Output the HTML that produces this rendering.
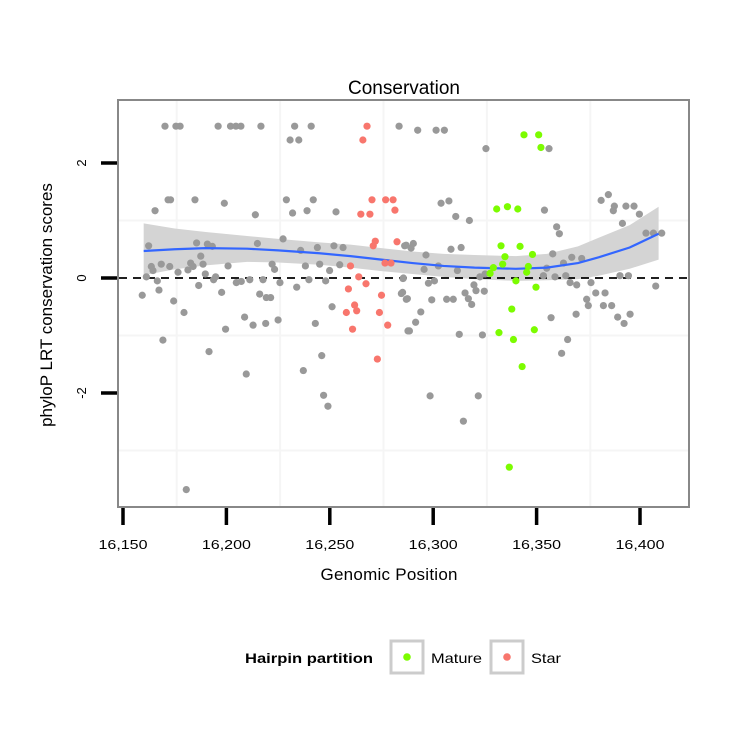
<!DOCTYPE html>
<html><head><meta charset="utf-8"><style>
body{margin:0;background:#fff;}
svg text{font-family:"Liberation Sans",sans-serif;}
</style></head><body>
<svg id="chart" width="750" height="750">
<rect width="750" height="750" fill="#fff"/>
<text x="404" y="94" text-anchor="middle" font-size="19">Conservation</text>
<rect x="118" y="100" width="571" height="407" fill="#fff" stroke="#888" stroke-width="2"/>
<g id="grid"></g>
<g id="band"></g>
<g id="zero"></g>
<g id="pts"></g>
<g id="axes"></g>
<text x="389" y="580" text-anchor="middle" font-size="17" textLength="137">Genomic Position</text>
<text transform="translate(52,305) rotate(-90)" text-anchor="middle" font-size="17">phyloP LRT conservation scores</text>
<g>
<text x="245" y="663" font-size="14" font-weight="bold" textLength="128" lengthAdjust="spacingAndGlyphs">Hairpin partition</text>
<rect x="391" y="641" width="32" height="32" fill="#fff" stroke="#ccc" stroke-width="3"/>
<circle cx="407" cy="657" r="3.8" fill="#7CFC00"/>
<text x="431" y="663" font-size="14" textLength="51" lengthAdjust="spacingAndGlyphs">Mature</text>
<rect x="491" y="641" width="32" height="32" fill="#fff" stroke="#ccc" stroke-width="3"/>
<circle cx="507" cy="657" r="3.8" fill="#F8766D"/>
<text x="531" y="663" font-size="14" textLength="30" lengthAdjust="spacingAndGlyphs">Star</text>
</g>
</svg>
<script>
const xTicks=[16150,16200,16250,16300,16350,16400];
const xTickLabels=["16,150","16,200","16,250","16,300","16,350","16,400"];
const yTicks=[2,0,-2];
const yTickLabels=["2","0","-2"];
const grayX=[16170.3,16175.6,16177.6,16196,16202,16204.6,16207,16216.7,16233,16241,16283.5,16230.8,16235,16171.8,16173,16184.8,16229,16242,16199,16165.5,16214,16232,16239,16253,
16162.4,16163.7,16164.5,16168.5,16172.6,16176.6,16185.6,16190.8,16193.2,16187.6,16182.7,16181.4,16183.9,16188.7,16189.8,16200.8,16215,16227.4,16235.9,16244,16252,16256.4,16222.1,16223.3,16238.2,16245.1,16249.9,16254.8,16286.2,16285.4,16161.3,16166.6,16167.4,16159.3,16174.5,16179.5,16186.6,16193.8,16194.8,16197.7,16204.8,16207.2,16211.3,16217.7,16216.1,16219.3,16221.4,16225.9,16234,16239.9,16248,16251.1,16243,16225,16219,16212.9,16208.8,16199.6,16169.3,16191.6,16209.6,16237.2,16246.1,16247,16249.1,16284.6,16287,16287.8,16180.6,
16292.5,16301.4,16305.4,16325.5,16356,16303.8,16307.6,16310.9,16317.5,16353.8,16381.2,16384.7,16387.6,16387.1,16393.2,16397.1,16399.7,16391.5,16402.9,16406.5,16410.5,16359.7,16361,
16286.9,16290.4,16289.3,16296.5,16302.5,16295.6,16308.6,16313.5,16311.7,16322.6,16325.1,16357.8,16363,16367,16371.8,16354.9,16353.3,16358.9,16364.1,16390.3,16394.4,
16285.6,16297.7,16300.6,16285.2,16287.5,16299.3,16306.5,16309.7,16315.4,16319.7,16320.7,16324.7,16317,16318.6,16294,16291.5,16288.5,16312.6,16323.8,
16366.2,16369.4,16376.3,16378.6,16383.1,16374.2,16375,16382.3,16386.3,16369.1,16357,16389.2,16392.3,16395.2,16407.6,16365,16362.1,16298.5,16321.8,16314.6];
const grayY=[2.64,2.64,2.64,2.64,2.64,2.64,2.64,2.64,2.64,2.64,2.64,2.4,2.4,1.36,1.36,1.36,1.36,1.36,1.3,1.17,1.1,1.13,1.17,1.15,
0.56,0.2,0.13,0.24,0.2,0.1,0.61,0.59,0.55,0.38,0.26,0.14,0.2,0.24,0.07,0.21,0.6,0.68,0.48,0.53,0.56,0.53,0.24,0.15,0.21,0.24,0.13,0.23,0.56,-0.01,0.02,-0.05,-0.21,-0.3,-0.4,-0.6,-0.13,-0.03,0.02,-0.25,-0.08,-0.06,-0.03,-0.03,-0.28,-0.34,-0.34,-0.08,-0.16,-0.03,-0.05,-0.5,-0.79,-0.73,-0.79,-0.82,-0.68,-0.89,-1.08,-1.28,-1.67,-1.61,-1.35,-2.04,-2.23,-0.27,-0.37,-0.92,-3.68,
2.57,2.57,2.57,2.25,2.25,1.3,1.34,1.07,1.0,1.18,1.35,1.45,1.25,1.17,1.25,1.25,1.11,0.95,0.78,0.78,0.78,0.89,0.77,
0.57,0.6,0.52,0.4,0.21,0.15,0.5,0.53,0.13,0.02,0.07,0.42,0.26,0.36,0.34,0.17,0.04,0.02,0.04,0.04,0.04,
0,-0.09,-0.05,-0.25,-0.36,-0.38,-0.37,-0.37,-0.26,-0.12,-0.22,-0.23,-0.36,-0.46,-0.59,-0.77,-0.92,-0.98,-0.99,
-0.08,-0.12,-0.08,-0.26,-0.26,-0.37,-0.48,-0.48,-0.48,-0.63,-0.69,-0.68,-0.79,-0.63,-0.14,-1.07,-1.31,-2.05,-2.05,-2.49];
const starX=[16268,16266,16270.4,16277,16280.6,16281.5,16265,16269.4,16272,16271,16282.5,16260,16276.7,16279.6,16264,16267.5,16259,16275,16262,16263,16258,16274,16278,16261,16273];
const starY=[2.64,2.4,1.36,1.36,1.36,1.18,1.11,1.11,0.64,0.56,0.63,0.21,0.26,0.26,0.02,-0.1,-0.19,-0.3,-0.47,-0.57,-0.6,-0.6,-0.82,-0.89,-1.41];
const matureX=[16343.9,16351,16352.1,16330.7,16335.9,16340.9,16332.8,16342,16348,16334.7,16333.6,16329.1,16327.5,16346,16345.2,16340,16349.7,16338,16331.8,16338.8,16348.9,16343,16336.8];
const matureY=[2.49,2.49,2.27,1.2,1.24,1.2,0.56,0.55,0.41,0.37,0.24,0.18,0.08,0.2,0.1,-0.05,-0.16,-0.54,-0.95,-1.07,-0.9,-1.54,-3.29];
const fitX=[16160,16175,16190,16210,16225,16245,16260,16275,16290,16305,16320,16340,16355,16370,16380,16395,16409];
const fitY=[0.47,0.5,0.52,0.51,0.48,0.43,0.38,0.32,0.26,0.21,0.18,0.16,0.18,0.26,0.36,0.53,0.77];
const fitUpper=[0.95,0.86,0.8,0.73,0.68,0.62,0.58,0.52,0.46,0.42,0.4,0.38,0.42,0.55,0.7,0.92,1.24];
const fitLower=[0.05,0.15,0.22,0.28,0.27,0.23,0.18,0.12,0.07,0.02,-0.02,-0.05,-0.04,-0.02,0.04,0.16,0.32];

const NS='http://www.w3.org/2000/svg';
const xs=v=>123+(v-16150)*2.068;
const ys=v=>278-v*57.5;
function mk(tag,attrs,parent){const e=document.createElementNS(NS,tag);for(const k in attrs)e.setAttribute(k,attrs[k]);parent.appendChild(e);return e;}
const grid=document.getElementById('grid');
[16175,16225,16275,16325,16375].forEach(v=>{const l=mk('line',{x1:xs(v)+2,x2:xs(v)+2,y1:101,y2:506,stroke:'#f5f5f5','stroke-width':2},grid);

});
[1,-1,-3].forEach(v=>{const l=mk('line',{x1:119,x2:688,y1:ys(v),y2:ys(v),stroke:'#f5f5f5','stroke-width':2},grid);

});
const band=document.getElementById('band');
let d='M'+fitX.map((x,i)=>xs(x)+','+ys(fitUpper[i])).join('L');
for(let i=fitX.length-1;i>=0;i--)d+='L'+xs(fitX[i])+','+ys(fitLower[i]);
const bp=mk('path',{d:d+'Z',fill:'#d4d4d4'},band);


const z=mk('line',{x1:119,x2:688,y1:ys(0),y2:ys(0),stroke:'#000','stroke-width':1.8,'stroke-dasharray':'8,6'},document.getElementById('zero'));


const pts=document.getElementById('pts');
grayX.forEach((x,i)=>{const c=mk('circle',{cx:xs(x),cy:ys(grayY[i]),r:3.6,fill:'#999'},pts);

});
const sm=mk('path',{d:'M'+fitX.map((x,i)=>xs(x)+','+ys(fitY[i])).join('L'),fill:'none',stroke:'#3366FF','stroke-width':2.2},pts);


starX.forEach((x,i)=>{const c=mk('circle',{cx:xs(x),cy:ys(starY[i]),r:3.6,fill:'#F8766D'},pts);

});
matureX.forEach((x,i)=>{const c=mk('circle',{cx:xs(x),cy:ys(matureY[i]),r:3.6,fill:'#7CFC00'},pts);

});
const axes=document.getElementById('axes');
xTicks.forEach((v,i)=>{const t=mk('line',{x1:xs(v),x2:xs(v),y1:508,y2:525,stroke:'#000','stroke-width':3.5},axes);


const tx=mk('text',{x:xs(v),y:549,'text-anchor':'middle','font-size':13,textLength:49,lengthAdjust:'spacingAndGlyphs'},axes);tx.textContent=xTickLabels[i];

});
yTicks.forEach((v,i)=>{const t=mk('line',{x1:101,x2:117,y1:ys(v),y2:ys(v),stroke:'#000','stroke-width':3.5},axes);


const tx=mk('text',{transform:`translate(86,${ys(v)}) rotate(-90)`,'text-anchor':'middle','font-size':13},axes);tx.textContent=yTickLabels[i];

});
</script>
</body></html>
